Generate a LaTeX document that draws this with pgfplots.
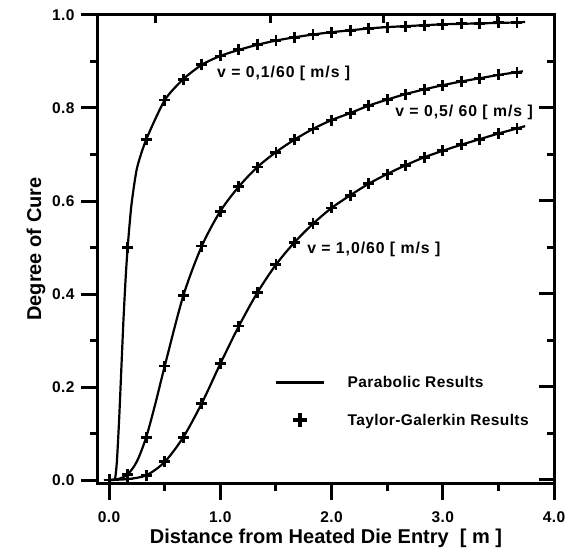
\documentclass[border=0pt]{standalone}
\usepackage{fontspec}
\setmainfont{Liberation Sans}
\usepackage{pgfplots}
\usepackage{pgfplotstable}
\usetikzlibrary{calc}
\pgfplotsset{compat=1.18}
\newcommand\tf{\fontsize{15.5}{18}\selectfont\bfseries\addfontfeatures{LetterSpace=2.5}}
\newcommand\af{\fontsize{15.8}{18}\selectfont\bfseries\addfontfeatures{LetterSpace=6}}
\newcommand\lf{\fontsize{20}{24}\selectfont\bfseries}

\pgfplotstableread{
x y
0 0
0.1667 0.50
0.3333 0.732
0.5 0.817
0.6667 0.862
0.8333 0.893
1.0 0.912
1.1667 0.925
1.3333 0.936
1.5 0.945
1.6667 0.952
1.8333 0.958
2.0 0.963
2.1667 0.967
2.3333 0.971
2.5 0.974
2.6667 0.976
2.8333 0.978
3.0 0.980
3.1667 0.981
3.3333 0.982
3.5 0.983
3.6667 0.984
}\mkA
\pgfplotstableread{
x y
0 0
0.04 0.0
0.055 0.005
0.07 0.04
0.09 0.13
0.11 0.24
0.13 0.35
0.15 0.44
0.1667 0.50
0.2 0.59
0.25 0.67
0.3333 0.732
0.5 0.817
0.6667 0.862
0.8333 0.893
1.0 0.912
1.1667 0.925
1.3333 0.936
1.5 0.945
1.6667 0.952
1.8333 0.958
2.0 0.963
2.1667 0.967
2.3333 0.971
2.5 0.974
2.6667 0.976
2.8333 0.978
3.0 0.980
3.1667 0.981
3.3333 0.982
3.5 0.983
3.6667 0.984
3.74 0.985
}\lnA
\pgfplotstableread{
x y
0 0
0.1667 0.012
0.3333 0.092
0.5 0.245
0.6667 0.396
0.8333 0.503
1.0 0.578
1.1667 0.631
1.3333 0.673
1.5 0.705
1.6667 0.732
1.8333 0.755
2.0 0.774
2.1667 0.789
2.3333 0.805
2.5 0.818
2.6667 0.830
2.8333 0.840
3.0 0.849
3.1667 0.857
3.3333 0.864
3.5 0.871
3.6667 0.877
}\mkB
\pgfplotstableread{
x y
0 0
0.08 0.002
0.1667 0.012
0.25 0.04
0.3333 0.092
0.4167 0.165
0.5 0.245
0.6667 0.396
0.8333 0.503
1.0 0.578
1.1667 0.631
1.3333 0.673
1.5 0.705
1.6667 0.732
1.8333 0.755
2.0 0.774
2.1667 0.789
2.3333 0.805
2.5 0.818
2.6667 0.830
2.8333 0.840
3.0 0.849
3.1667 0.857
3.3333 0.864
3.5 0.871
3.6667 0.877
3.72 0.879
}\lnB
\pgfplotstableread{
x y
0 0
0.1667 0.002
0.3333 0.010
0.5 0.039
0.6667 0.092
0.8333 0.165
1.0 0.250
1.1667 0.331
1.3333 0.403
1.5 0.463
1.6667 0.511
1.8333 0.551
2.0 0.585
2.1667 0.612
2.3333 0.637
2.5 0.658
2.6667 0.677
2.8333 0.694
3.0 0.708
3.1667 0.721
3.3333 0.733
3.5 0.745
3.6667 0.756
}\mkC
\pgfplotstableread{
x y
0 0
0.1667 0.002
0.3333 0.010
0.5 0.039
0.6667 0.092
0.8333 0.165
1.0 0.250
1.1667 0.331
1.3333 0.403
1.5 0.463
1.6667 0.511
1.8333 0.551
2.0 0.585
2.1667 0.612
2.3333 0.637
2.5 0.658
2.6667 0.677
2.8333 0.694
3.0 0.708
3.1667 0.721
3.3333 0.733
3.5 0.745
3.6667 0.756
3.74 0.761
}\lnC

\pgfplotsset{
  longline legend/.style={legend image code/.code={\draw[##1] (0pt,0pt) -- (48pt,0pt);}},
  markonly legend/.style={legend image code/.code={\draw[##1] plot coordinates {(24pt,0pt)};}}
}

\begin{document}
\begin{tikzpicture}
\useasboundingbox (-98pt,-73pt) rectangle (474pt,483pt);
\begin{axis}[
  at={(0pt,0pt)}, anchor=south west,
  scale only axis, width=456pt, height=468pt,
  xmin=-0.1, xmax=4.0, ymin=-0.0065, ymax=1.0,
  axis line style={line width=3pt},
  xtick={0,1,2,3,4},
  ytick={0,0.2,0.4,0.6,0.8,1.0},
  xtick pos=left, ytick pos=left,
  tick align=inside,
  major tick length=0pt, minor tick length=0pt,
  /pgf/number format/assume math mode=true,
  /pgf/number format/fixed, /pgf/number format/fixed zerofill, /pgf/number format/precision=1,
  ticklabel style={font=\tf},
  xticklabel style={anchor=north, yshift=-25pt},
  yticklabel style={anchor=east, xshift=-20pt},
  xlabel={Distance from Heated Die Entry \ [ m ]},
  ylabel={Degree of Cure},
  label style={font=\lf},
  clip=false,
  legend style={draw=none, fill=none, at={(axis cs:1.492,0.228)}, anchor=north west,
    font=\tf, inner sep=0pt, row sep=21pt, legend cell align=left,
    /tikz/every even column/.append style={column sep=0pt}},
]
\addlegendimage{black, line width=2.4pt, longline legend}
\addlegendentry{\hspace*{20pt}Parabolic Results}
\addlegendimage{black, only marks, mark=+, mark size=7pt, mark options={line width=4pt}, markonly legend}
\addlegendentry{\hspace*{20pt}Taylor-Galerkin Results}
\addplot[black, line width=2.2pt, smooth, tension=0.4, forget plot] table[x=x,y=y]{\lnA};
\addplot[black, line width=2.2pt, smooth, forget plot] table[x=x,y=y]{\lnB};
\addplot[black, line width=2.2pt, smooth, forget plot] table[x=x,y=y]{\lnC};
\addplot[black, only marks, mark=+, mark size=5.5pt, mark options={line width=2.8pt}, forget plot] table[x=x,y=y]{\mkA};
\addplot[black, only marks, mark=+, mark size=5.5pt, mark options={line width=2.8pt}, forget plot] table[x=x,y=y]{\mkB};
\addplot[black, only marks, mark=+, mark size=5.5pt, mark options={line width=2.8pt}, forget plot] table[x=x,y=y]{\mkC};
% inward tick marks on the right and top edges
\pgfplotsinvokeforeach{0,0.2,0.4,0.6,0.8,1.0}{\draw[black, line width=3pt] (axis cs:4,#1) -- ++(-15pt,0pt);}
\pgfplotsinvokeforeach{0.1,0.3,0.5,0.7,0.9}{\draw[black, line width=3pt] (axis cs:4,#1) -- ++(-7pt,0pt);}
\pgfplotsinvokeforeach{0.42,1.447,2.47,3.495}{\draw[black, line width=3pt] (axis cs:#1,1.0) -- ++(0pt,-8pt);}
\coordinate (sw) at (axis cs:-0.1,-0.0065);
\coordinate (se) at (axis cs:4,-0.0065);
\coordinate (nw) at (axis cs:-0.1,1.0);
\node[anchor=west, inner sep=0pt, font=\af] at (axis cs:0.970,0.875) {v = 0,1/60 [ m/s ]};
\node[anchor=west, inner sep=0pt, font=\af] at (axis cs:2.572,0.791) {v = 0,5/ 60 [ m/s ]};
\node[anchor=west, inner sep=0pt, font=\af] at (axis cs:1.780,0.495) {v = 1,0/60 [ m/s ]};
\end{axis}
% outward tick marks on the bottom and left edges, drawn outside the axis scope
\foreach \v in {0,1,2,3,4} {\draw[black, line width=3pt] ($(sw)!{(\v+0.1)/4.1}!(se)$) -- ++(0pt,-17pt);}
\foreach \v in {0.5,1.5,2.5,3.5} {\draw[black, line width=3pt] ($(sw)!{(\v+0.1)/4.1}!(se)$) -- ++(0pt,-8pt);}
\foreach \v in {0,0.2,0.4,0.6,0.8,1.0} {\draw[black, line width=3pt] ($(sw)!{(\v+0.0065)/1.0065}!(nw)$) -- ++(-17pt,0pt);}
\foreach \v in {0.1,0.3,0.5,0.7,0.9} {\draw[black, line width=3pt] ($(sw)!{(\v+0.0065)/1.0065}!(nw)$) -- ++(-8pt,0pt);}
\end{tikzpicture}
\end{document}
